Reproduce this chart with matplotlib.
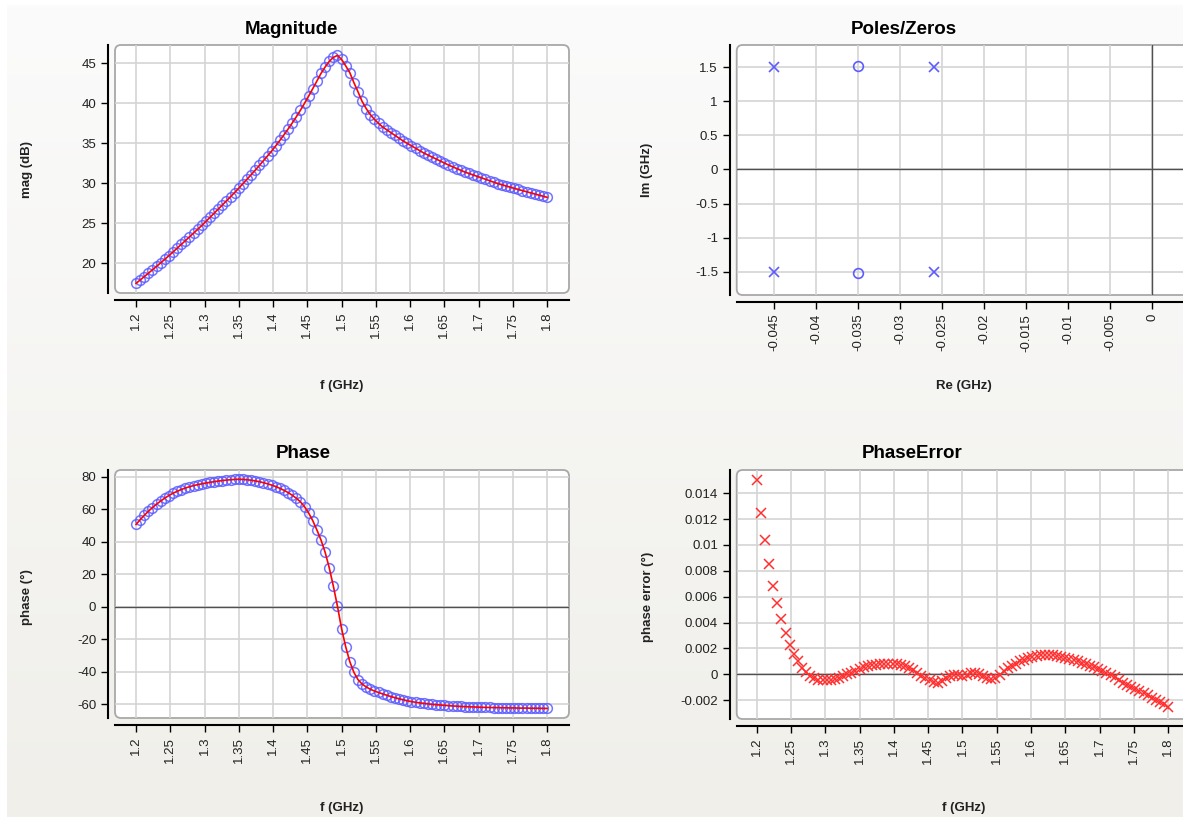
import numpy as np
import matplotlib
matplotlib.use('Agg')
import matplotlib.pyplot as plt
from matplotlib.patches import FancyBboxPatch
from matplotlib.ticker import FuncFormatter, MultipleLocator
from matplotlib.colors import LinearSegmentedColormap

plt.rcParams['font.family'] = ['Liberation Sans', 'DejaVu Sans']

# Frequency sweep (GHz)
f_start, f_stop, n_points = 1.2, 1.8, 101
freq = np.linspace(f_start, f_stop, n_points)

# Measured magnitude (dB)
mag_db = [17.50, 17.92, 18.34, 18.77, 19.20, 19.63, 20.07, 20.51, 20.96, 21.43,
          21.90, 22.37, 22.84, 23.31, 23.78, 24.26, 24.74, 25.25, 25.76, 26.27,
          26.79, 27.30, 27.82, 28.34, 28.86, 29.40, 29.96, 30.52, 31.08, 31.65,
          32.24, 32.84, 33.44, 34.05, 34.70, 35.38, 36.08, 36.80, 37.55, 38.33,
          39.15, 40.02, 40.92, 41.85, 42.80, 43.75, 44.55, 45.25, 45.75, 46.00,
          45.50, 44.70, 43.85, 42.60, 41.45, 40.25, 39.35, 38.60, 38.00, 37.50,
          37.05, 36.70, 36.35, 36.00, 35.65, 35.30, 35.00, 34.70, 34.40, 34.10,
          33.80, 33.55, 33.30, 33.05, 32.80, 32.55, 32.30, 32.08, 31.86, 31.64,
          31.42, 31.24, 31.06, 30.88, 30.70, 30.52, 30.34, 30.16, 29.98, 29.83,
          29.68, 29.53, 29.38, 29.24, 29.10, 28.96, 28.82, 28.68, 28.54, 28.40,
          28.26]

# Measured phase (deg)
phase_deg = [50.6, 53.5, 56.2, 58.7, 61.0, 63.1, 65.0, 66.8, 68.4, 69.8,
             71.0, 72.1, 73.0, 73.8, 74.5, 75.1, 75.6, 76.1, 76.5, 76.9,
             77.3, 77.6, 77.9, 78.1, 78.3, 78.4, 78.3, 78.1, 77.8, 77.4,
             76.9, 76.3, 75.6, 74.8, 73.9, 72.8, 71.6, 70.2, 68.6, 66.7,
             64.5, 61.5, 57.6, 52.9, 47.2, 41.0, 33.5, 24.0, 12.7, 0.3,
             -13.5, -24.6, -33.8, -40.4, -44.9, -47.6, -49.4, -50.8, -51.9, -52.8,
             -53.7, -54.5, -55.3, -56.0, -56.7, -57.3, -57.9, -58.4, -58.8, -59.2,
             -59.5, -59.8, -60.1, -60.3, -60.5, -60.7, -60.9, -61.1, -61.2, -61.4,
             -61.5, -61.6, -61.7, -61.8, -61.9, -62.0, -62.0, -62.1, -62.1, -62.2,
             -62.2, -62.3, -62.3, -62.4, -62.4, -62.4, -62.5, -62.5, -62.5, -62.6,
             -62.6]

# Phase error of the fitted model (deg)
phase_err = [0.0150, 0.0125, 0.0104, 0.0085, 0.0068, 0.0055, 0.0043, 0.0032, 0.0023, 0.0016,
             0.0010, 0.0005, 0.0002, -0.0001, -0.0003, -0.00042, -0.00048, -0.00047, -0.00043, -0.00035,
             -0.00025, -0.00013, 0.0, 0.00012, 0.00028, 0.00042, 0.00053, 0.00062, 0.00069, 0.00075,
             0.00079, 0.00081, 0.00081, 0.0008, 0.00078, 0.00074, 0.00066, 0.00052, 0.00035, 0.00012,
             -0.0001, -0.0003, -0.00048, -0.0006, -0.00065, -0.00052, -0.00032, -0.00014, -0.00005, -0.00005,
             -0.0001, -0.00002, 0.0001, 0.00013, 0.00005, -0.00012, -0.00028, -0.00036, -0.00025, -0.00008,
             0.00025, 0.00047, 0.00067, 0.00083, 0.00099, 0.00113, 0.00125, 0.00136, 0.00142, 0.00148,
             0.0015, 0.00151, 0.0015, 0.00145, 0.00137, 0.00128, 0.00119, 0.0011, 0.001, 0.00089,
             0.00078, 0.00067, 0.00056, 0.0004, 0.00024, 0.00008, -0.00008, -0.00024, -0.00045, -0.00065,
             -0.00082, -0.00099, -0.00116, -0.00132, -0.00148, -0.00164, -0.0018, -0.00196, -0.00212, -0.00232,
             -0.00255]

# Poles and zeros (GHz)
pole_re = [-0.045, -0.045, -0.026, -0.026]
pole_im = [1.5, -1.5, 1.5, -1.5]
zero_re = [-0.035, -0.035]
zero_im = [1.52, -1.52]
re_ticks = [-0.045, -0.04, -0.035, -0.03, -0.025, -0.02, -0.015, -0.01, -0.005, 0]

W, H = 1183, 817
BLUE = '#5c5cff'
RED = '#ff0000'

fig = plt.figure(figsize=(W / 100, H / 100), dpi=100, facecolor='white')

# soft grey background
bg = fig.add_axes([7 / W, 0, 1, 1 - 5 / H], zorder=-10)
grad = np.linspace(0, 1, 256).reshape(-1, 1)
bg.imshow(grad, aspect='auto', extent=[0, 1, 0, 1], origin='lower',
          cmap=LinearSegmentedColormap.from_list('bg', ['#f0efea', '#fbfbfb']))
bg.axis('off')


def fmt(v, pos):
    if abs(v) < 1e-12:
        return '0'
    return '%g' % round(v, 6)


def make_axes(left, top, right, bottom, xlim, ylim, xstep, ystep):
    ax = fig.add_axes([left / W, 1 - bottom / H, (right - left) / W, (bottom - top) / H])
    ax.patch.set_visible(False)
    w, h = right - left, bottom - top
    frame = FancyBboxPatch((0, 0), 1, 1, boxstyle='round,pad=0,rounding_size=%f' % (6 / w),
                           mutation_aspect=w / h, transform=ax.transAxes,
                           facecolor='white', edgecolor='#a8a8a8', lw=1.3, zorder=0, clip_on=False)
    ax.add_patch(frame)
    ax.set_xlim(xlim)
    ax.set_ylim(ylim)
    ax.xaxis.set_major_locator(MultipleLocator(xstep))
    ax.yaxis.set_major_locator(MultipleLocator(ystep))
    ax.xaxis.set_major_formatter(FuncFormatter(fmt))
    ax.yaxis.set_major_formatter(FuncFormatter(fmt))
    ax.grid(True, color='#d4d4d4', lw=1.2)
    ax.set_axisbelow(True)
    for s in ['top', 'right']:
        ax.spines[s].set_visible(False)
    for s in ['left', 'bottom']:
        ax.spines[s].set_position(('outward', 5))
        ax.spines[s].set_linewidth(1.5)
    ax.tick_params(direction='out', length=5, width=1, labelsize=9.5, labelcolor='#222222')
    ax.tick_params(axis='x', labelrotation=90)
    return ax


# Magnitude
ax1 = make_axes(115, 45, 569, 293, (1.1693, 1.832), (16.3, 47.3), 0.05, 5)
ax1.plot(freq, mag_db, 'o', mfc='none', mec=BLUE, ms=7, mew=1.1, alpha=0.85, zorder=2)
ax1.plot(freq, mag_db, '-', color=RED, lw=1.2, zorder=3)

# Poles / zeros (panel runs past the right edge)
ax2 = make_axes(736.7, 45, 1196, 295, (-0.04944, 0.00522), (-1.845, 1.83), 0.005, 0.5)
ax2.set_xticks(re_ticks)
ax2.axhline(0, color='#505050', lw=1, zorder=1)
ax2.axvline(0, color='#505050', lw=1, zorder=1)
ax2.plot(pole_re, pole_im, 'x', color=BLUE, ms=7, mew=1.2, zorder=3)
ax2.plot(zero_re, zero_im, 'o', mfc='none', mec=BLUE, ms=7, mew=1.2, zorder=3)

# Phase
ax3 = make_axes(115, 470, 569, 718, (1.1693, 1.832), (-68.5, 84.1), 0.05, 20)
ax3.axhline(0, color='#505050', lw=1, zorder=1)
ax3.plot(freq, phase_deg, 'o', mfc='none', mec=BLUE, ms=7, mew=1.1, alpha=0.85, zorder=2)
ax3.plot(freq, phase_deg, '-', color=RED, lw=1.2, zorder=3)

# Phase error
ax4 = make_axes(736.7, 470, 1196, 719, (1.1708, 1.8405), (-0.00346, 0.0158), 0.05, 0.002)
ax4.axhline(0, color='#505050', lw=1, zorder=1)
ax4.plot(freq, phase_err, 'x', color='#ff3030', ms=7, mew=1.1, zorder=3)

# titles and axis labels
for x, y, t in [(291, 30, 'Magnitude'), (904, 30, 'Poles/Zeros'),
                (303, 454, 'Phase'), (912, 454, 'PhaseError')]:
    fig.text(x / W, 1 - y / H, t, ha='center', va='center', fontsize=13.5, fontweight='bold')

for x, y, t in [(27, 170, 'mag (dB)'), (647, 170, 'Im (GHz)'),
                (27, 597, 'phase (°)'), (648, 597, 'phase error (°)')]:
    fig.text(x / W, 1 - y / H, t, ha='center', va='center', rotation=90,
             fontsize=9.5, fontweight='bold', color='#222222')

for x, y, t in [(342, 386, 'f (GHz)'), (964, 386, 'Re (GHz)'),
                (342, 808, 'f (GHz)'), (964, 808, 'f (GHz)')]:
    fig.text(x / W, 1 - y / H, t, ha='center', va='center',
             fontsize=9.5, fontweight='bold', color='#222222')

fig.savefig('out.png', dpi=100)
